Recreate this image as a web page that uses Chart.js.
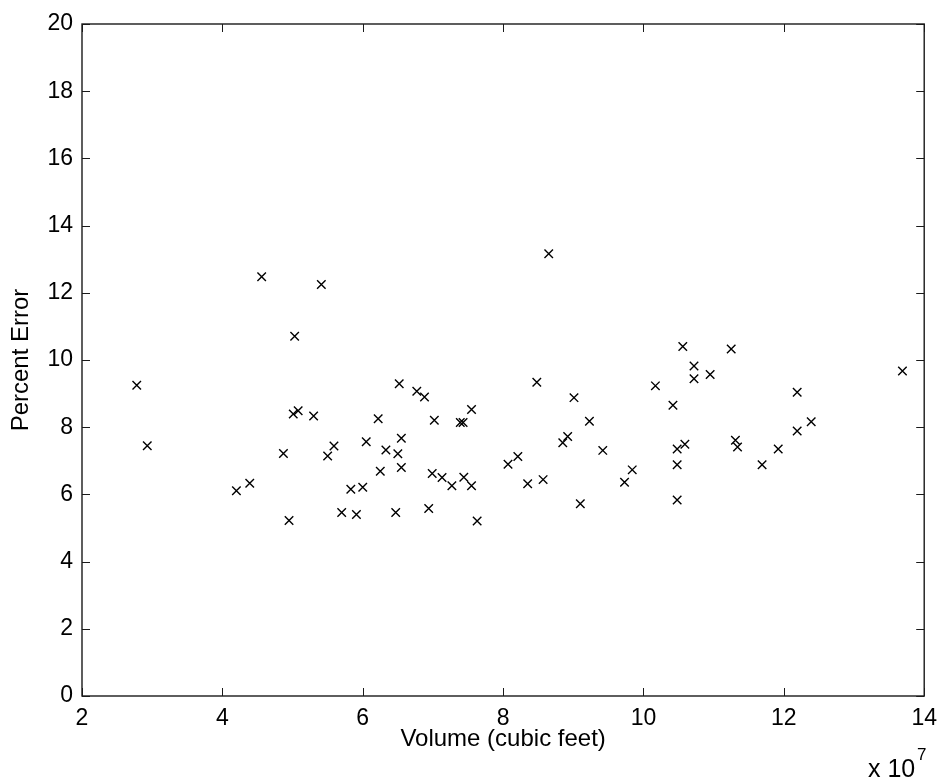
<!DOCTYPE html>
<html>
<head>
<meta charset="utf-8">
<script src="https://cdn.jsdelivr.net/npm/chart.js@4.4.1/dist/chart.umd.min.js"></script>
<style>
  html, body { margin: 0; padding: 0; background: #fff; }
  #wrap { width: 946px; height: 781px; }
</style>
</head>
<body>
<div id="wrap"><canvas id="scatter" width="946" height="781"></canvas></div>
<script>
// volume in units of 10^7 cubic feet
const volume = [
  2.78, 2.93, 4.20, 4.39, 4.56, 4.87, 4.95, 5.03, 5.01, 5.08,
  5.30, 5.41, 5.50, 5.59, 5.70, 5.83, 5.91, 6.00, 6.05, 6.22,
  6.25, 6.33, 6.47, 6.50, 6.52, 6.55, 6.55, 6.77, 6.88, 6.94,
  6.99, 7.02, 7.13, 7.27, 7.39, 7.43, 7.44, 7.55, 7.55, 7.63,
  8.07, 8.21, 8.35, 8.48, 8.57, 8.65, 8.85, 8.92, 9.01, 9.10,
  9.23, 9.42, 9.73, 9.84, 10.17, 10.42, 10.48, 10.48, 10.48, 10.56,
  10.59, 10.72, 10.72, 10.95, 11.25, 11.31, 11.34, 11.69, 11.92, 12.19,
  12.19, 12.39, 13.69
];
const percentError = [
  9.25, 7.45, 6.11, 6.33, 12.48, 7.22, 5.22, 10.71, 8.39, 8.49,
  8.33, 12.25, 7.14, 7.44, 5.46, 6.15, 5.40, 6.21, 7.57, 8.25,
  6.69, 7.32, 5.46, 7.21, 9.29, 7.67, 6.80, 9.07, 8.90, 5.58,
  6.62, 8.21, 6.50, 6.26, 8.14, 8.14, 6.51, 6.26, 8.53, 5.21,
  6.90, 7.13, 6.32, 9.34, 6.44, 13.16, 7.54, 7.72, 8.88, 5.72,
  8.18, 7.31, 6.36, 6.73, 9.23, 8.65, 7.35, 6.88, 5.83, 10.40,
  7.49, 9.82, 9.44, 9.57, 10.33, 7.61, 7.41, 6.88, 7.35, 9.04,
  7.89, 8.16, 9.67
];
const xTicks = [2, 4, 6, 8, 10, 12, 14];
const yTicks = [0, 2, 4, 6, 8, 10, 12, 14, 16, 18, 20];
const xTitle = 'Volume (cubic feet)';
const yTitle = 'Percent Error';
const xExponent = '7';

const fontFamily = '"Liberation Sans", Arial, Helvetica, sans-serif';
const tickFont = { family: fontFamily, size: 23 };
const titleFont = { family: fontFamily, size: 24 };

// box round the plot, inward ticks on all four sides, "x 10^7" under the x axis
const matlabAxes = {
  id: 'matlabAxes',
  afterDraw(chart) {
    const { ctx, chartArea: a, scales: { x, y } } = chart;
    ctx.save();
    ctx.strokeStyle = '#1a1a1a';
    ctx.lineWidth = 1.4;
    ctx.strokeRect(a.left, a.top, a.right - a.left, a.bottom - a.top);
    ctx.beginPath();
    xTicks.forEach(v => {
      const px = Math.round(x.getPixelForValue(v)) + 0.5;
      ctx.moveTo(px, a.bottom); ctx.lineTo(px, a.bottom - 8);
      ctx.moveTo(px, a.top); ctx.lineTo(px, a.top + 8);
    });
    yTicks.forEach(v => {
      const py = Math.round(y.getPixelForValue(v)) + 0.5;
      ctx.moveTo(a.left, py); ctx.lineTo(a.left + 8, py);
      ctx.moveTo(a.right, py); ctx.lineTo(a.right - 8, py);
    });
    ctx.lineWidth = 1;
    ctx.stroke();

    ctx.fillStyle = '#000';
    ctx.textBaseline = 'alphabetic';
    ctx.textAlign = 'left';
    ctx.font = '25px ' + fontFamily;
    ctx.fillText('x 10', 868, 777);
    ctx.font = '17px ' + fontFamily;
    ctx.fillText(xExponent, 917, 760);
    ctx.restore();
  }
};

const ctx = document.getElementById('scatter').getContext('2d');
const scatterChart = new Chart(ctx, {
  type: 'scatter',
  data: {
    datasets: [{
      label: 'Percent Error',
      data: volume.map((v, i) => ({ x: v, y: percentError[i] })),
      pointStyle: 'crossRot',
      pointRadius: 6,
      pointHoverRadius: 6,
      borderColor: '#000',
      backgroundColor: '#000',
      borderWidth: 1.4
    }]
  },
  options: {
    responsive: false,
    animation: false,
    events: [],
    layout: { padding: { top: 24, right: 18, left: 0, bottom: 0 } },
    plugins: {
      legend: { display: false },
      tooltip: { enabled: false }
    },
    scales: {
      x: {
        type: 'linear',
        min: 2,
        max: 14,
        afterBuildTicks: s => { s.ticks = xTicks.map(v => ({ value: v })); },
        afterFit: s => { s.height = 85; },
        grid: { display: false, drawTicks: false },
        border: { display: false },
        ticks: { color: '#000', font: tickFont, padding: 9, maxRotation: 0, autoSkip: false },
        title: { display: true, text: xTitle, color: '#000', font: titleFont, padding: { top: 0, bottom: 27 } }
      },
      y: {
        type: 'linear',
        min: 0,
        max: 20,
        afterBuildTicks: s => { s.ticks = yTicks.map(v => ({ value: v })); },
        afterFit: s => { s.width = 82; },
        grid: { display: false, drawTicks: false },
        border: { display: false },
        ticks: { color: '#000', font: tickFont, padding: 9, autoSkip: false },
        title: { display: true, text: yTitle, color: '#000', font: titleFont, padding: { top: 7, bottom: 0 } }
      }
    }
  },
  plugins: [matlabAxes]
});
</script>
</body>
</html>
